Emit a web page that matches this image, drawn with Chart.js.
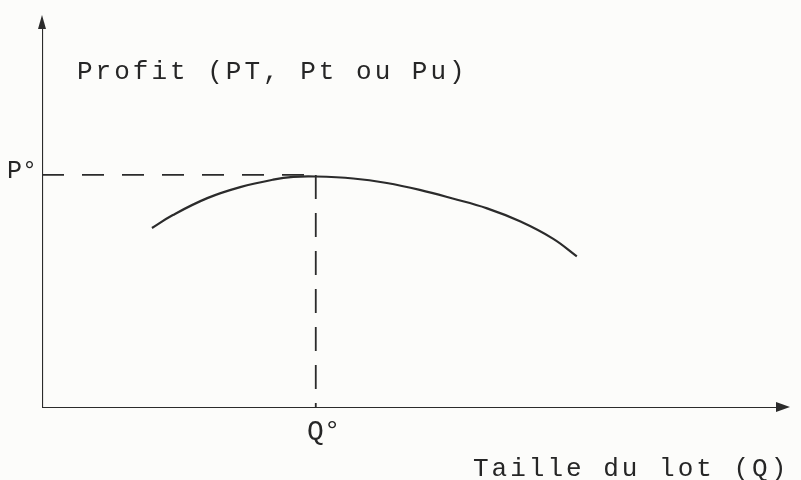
<!DOCTYPE html>
<html>
<head>
<meta charset="utf-8">
<script src="https://cdn.jsdelivr.net/npm/chart.js@4.4.1/dist/chart.umd.min.js"></script>
<style>
  html, body { margin: 0; padding: 0; background: #fcfcfa; }
  #wrap { width: 801px; height: 480px; }
</style>
</head>
<body>
<div id="wrap"><canvas id="graficoProfit" width="801" height="480"></canvas></div>
<script>
// Courbe du profit selon la taille du lot
const tailleLot = [14.7, 17.5, 22.1, 26.5, 30.9, 33.6, 36.6, 41.6, 46.1, 50.5, 54.9, 59.5, 63.9, 68.3, 71.5];
const profit = [45.8, 49.1, 53.4, 56.2, 58.1, 58.8, 58.9, 58.4, 57.25, 55.5, 53.3, 50.8, 47.5, 43.1, 38.6];

// Optimum
const qOptimal = [36.6];
const pOptimal = [59.3];
const etiquettesX = ["Q°"];
const etiquettesY = ["P°"];

const titreY = "Profit (PT, Pt ou Pu)";
const titreX = "Taille du lot (Q)";

const ink = "#2b2b2b";

const courbe = tailleLot.map((q, i) => ({ x: q, y: profit[i] }));

// Flèches des axes et textes
const decor = {
    id: "decor",
    afterDatasetsDraw(chart) {
        const ctx = chart.ctx;
        const xs = chart.scales.x, ys = chart.scales.y;
        const x0 = xs.getPixelForValue(0), y0 = ys.getPixelForValue(0);
        const xEnd = xs.getPixelForValue(100), yEnd = ys.getPixelForValue(100);
        ctx.save();
        ctx.fillStyle = ink;
        // flèche verticale
        ctx.beginPath();
        ctx.moveTo(x0, yEnd);
        ctx.lineTo(x0 - 4, yEnd + 14);
        ctx.lineTo(x0 + 4, yEnd + 14);
        ctx.closePath();
        ctx.fill();
        // flèche horizontale
        ctx.beginPath();
        ctx.moveTo(xEnd, y0 - 1);
        ctx.lineTo(xEnd - 14, y0 - 6);
        ctx.lineTo(xEnd - 14, y0 + 4);
        ctx.closePath();
        ctx.fill();

        ctx.fillStyle = "#262626";
        ctx.textBaseline = "middle";
        ctx.font = "26px 'Liberation Mono', monospace";
        ctx.letterSpacing = "3px";
        ctx.textAlign = "left";
        ctx.fillText(titreY, x0 + 35, 72);
        ctx.fillText(titreX, 473, 469);

        ctx.letterSpacing = "0px";
        ctx.font = "25px 'Liberation Mono', monospace";
        ctx.textAlign = "right";
        ctx.fillText(etiquettesY[0], x0 - 5, ys.getPixelForValue(pOptimal[0]) - 4);
        ctx.font = "28px 'Liberation Mono', monospace";
        ctx.textAlign = "center";
        ctx.fillText(etiquettesX[0], xs.getPixelForValue(qOptimal[0]) + 8, y0 + 24);
        ctx.restore();
    }
};

new Chart(document.getElementById("graficoProfit"), {
    type: "scatter",
    data: {
        datasets: [
            {
                data: courbe,
                showLine: true,
                tension: 0.4,
                borderColor: ink,
                borderWidth: 2.2,
                pointRadius: 0
            },
            {
                data: [{ x: 0, y: pOptimal[0] }, { x: qOptimal[0], y: pOptimal[0] }],
                showLine: true,
                borderColor: ink,
                borderWidth: 1.8,
                borderDash: [22, 18],
                pointRadius: 0
            },
            {
                data: [{ x: qOptimal[0], y: pOptimal[0] }, { x: qOptimal[0], y: 0 }],
                showLine: true,
                borderColor: ink,
                borderWidth: 1.8,
                borderDash: [24, 14],
                pointRadius: 0
            },
            {
                data: [{ x: 0, y: 0 }, { x: 99, y: 0 }],
                showLine: true,
                borderColor: ink,
                borderWidth: 2.2,
                pointRadius: 0
            },
            {
                data: [{ x: 0, y: 0 }, { x: 0, y: 98 }],
                showLine: true,
                borderColor: ink,
                borderWidth: 2.2,
                pointRadius: 0
            }
        ]
    },
    options: {
        responsive: false,
        animation: false,
        events: [],
        layout: { padding: { left: 42, right: 11, top: 15, bottom: 72 } },
        plugins: { legend: { display: false }, tooltip: { enabled: false } },
        scales: {
            x: { type: "linear", min: 0, max: 100, display: false },
            y: { type: "linear", min: 0, max: 100, display: false }
        }
    },
    plugins: [decor]
});
</script>
</body>
</html>
